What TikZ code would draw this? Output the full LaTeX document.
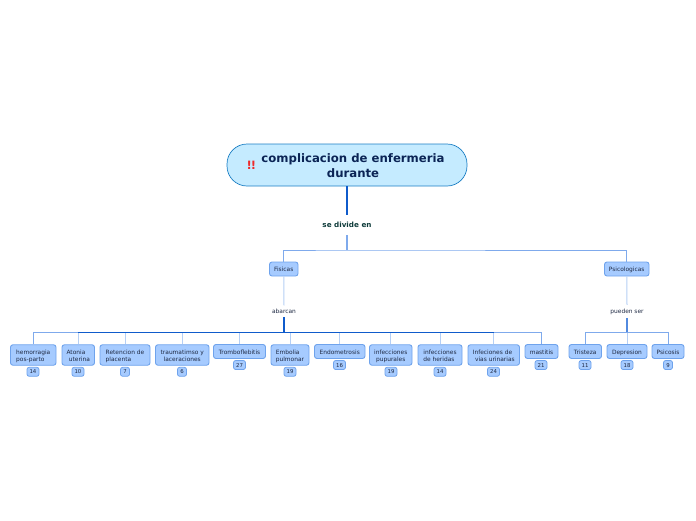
\documentclass[tikz,border=0pt]{standalone}
\usepackage{fontspec}
\setmainfont{DejaVu Sans}
\definecolor{nfill}{HTML}{A6CBFF}
\definecolor{ndraw}{HTML}{6FA3EC}
\definecolor{rootfill}{HTML}{C5EBFF}
\definecolor{rootdraw}{HTML}{1C7FC4}
\definecolor{rootink}{HTML}{0B2455}
\definecolor{darkblue}{HTML}{0F5BCB}
\definecolor{midblue}{HTML}{7FAAEC}
\definecolor{lightblue}{HTML}{B5CFF5}
\definecolor{inktxt}{HTML}{1F2A44}
\definecolor{greenink}{HTML}{0E3B3A}
\definecolor{warnred}{HTML}{EE2B2B}
\tikzset{
  x=1pt,y=-1pt,
  topic/.style={draw=ndraw,fill=nfill,line width=.9pt,rounded corners=2.5pt,inner sep=0pt,text=inktxt,font=\fontsize{5.9}{7}\selectfont,minimum height=14pt,text height=6pt,text depth=1pt},
  twoline/.style={minimum height=20.5pt,text height=13pt,text depth=1pt},
  badge/.style={draw=ndraw,fill=nfill,line width=.8pt,rounded corners=2.2pt,inner sep=0pt,text=inktxt,font=\fontsize{5.4}{6}\selectfont,minimum height=9pt,text height=4pt,text depth=0pt},
  linklabel/.style={inner sep=0pt,font=\fontsize{5.9}{7}\selectfont,text=inktxt},
  lnk/.style={draw=midblue,line width=.9pt},
  lnklight/.style={draw=lightblue,line width=1pt},
  lnkdark/.style={draw=darkblue,line width=1pt},
}
\newcommand{\topicnode}[6]{% name, left, right, cy, options, text
  \node[topic,#5,minimum width={(#3-#2)*1pt}] (#1) at ({(#2+#3)/2},#4) {#6};}
\begin{document}
\begin{tikzpicture}
\useasboundingbox (0,0) rectangle (696,520);
% root
\node[draw=rootdraw,fill=rootfill,line width=.7pt,rounded corners=20pt,minimum width=240pt,minimum height=42pt,inner sep=0pt] (root) at (347,165) {};
\node[inner sep=0pt,align=center,text=rootink,font=\fontsize{11.7}{15}\selectfont\bfseries] (roottext) at (353,165.8) {complicacion de enfermeria\\durante};
\node[inner sep=0pt,text=warnred,font=\fontsize{11.5}{11.5}\selectfont\bfseries] (warn) at (251.5,165) {\kern-.3pt!\kern-1.1pt!};
\node[linklabel,font=\fontsize{7.2}{8}\selectfont\bfseries,text=greenink] (divide) at (347,224.8) {se divide en};
\topicnode{fis}{269.5}{298}{269}{}{Fisicas}
\topicnode{psi}{604.5}{649}{269}{}{Psicologicas}
\node[linklabel] (abarcan) at (284,311.4) {abarcan};
\node[linklabel] (pueden) at (627,311.4) {pueden ser};
% children
\topicnode{a1}{10.5}{56}{355}{twoline,align=left}{hemorragia\\pos-parto}
\topicnode{a2}{62}{94.5}{355}{twoline,align=left}{Atonia\\\hspace*{2.3pt}uterina}
\topicnode{a3}{100}{150}{355}{twoline,align=left}{Retencion de\\placenta}
\topicnode{a4}{155.5}{209}{355}{twoline,align=center}{traumatimso y\\laceraciones}
\topicnode{a5}{213.5}{265.5}{351.5}{}{Tromboflebitis}
\topicnode{a6}{271}{309}{355}{twoline,align=left}{Embolia\\pulmonar}
\topicnode{a7}{314.5}{365}{351.5}{}{Endometrosis}
\topicnode{a8}{369.5}{412}{355}{twoline,align=center}{infecciones\\pupurales}
\topicnode{a9}{418}{462}{355}{twoline,align=left}{infecciones\\de heridas}
\topicnode{a10}{468}{519.5}{355}{twoline,align=left}{Infeciones de\\\hspace*{2.3pt}vias urinarias}
\topicnode{a11}{525}{558}{351.5}{}{mastitis}
\topicnode{b1}{569}{601.5}{351.5}{}{Tristeza}
\topicnode{b2}{607}{647}{351.5}{}{Depresion}
\topicnode{b3}{652}{684}{351.5}{}{Psicosis}
% badges
\node[badge,minimum width=12pt] (c1) at (33,371.8) {14};
\node[badge,minimum width=12pt] (c2) at (78,371.8) {10};
\node[badge,minimum width=9pt] (c3) at (125,371.8) {7};
\node[badge,minimum width=9pt] (c4) at (182,371.8) {6};
\node[badge,minimum width=12pt] (c5) at (239.5,365) {27};
\node[badge,minimum width=12pt] (c6) at (290,371.8) {19};
\node[badge,minimum width=12pt] (c7) at (339.5,365) {16};
\node[badge,minimum width=12pt] (c8) at (391,371.8) {19};
\node[badge,minimum width=12pt] (c9) at (440,371.8) {14};
\node[badge,minimum width=12pt] (c10) at (493.5,371.8) {24};
\node[badge,minimum width=12pt] (c11) at (541,365) {21};
\node[badge,minimum width=12pt] (d1) at (585,365) {11};
\node[badge,minimum width=12pt] (d2) at (627,365) {18};
\node[badge,minimum width=9pt] (d3) at (668,365) {9};
% bus coordinates
\coordinate (busT) at (347,250);
\coordinate (busA) at (284,332.5);
\coordinate (busB) at (627,332.5);
% connectors
\draw[draw=darkblue,line width=1.1pt] (root.south) -- ([yshift=7pt]divide.north);
\draw[lnk,line width=1.1pt] ([yshift=-7pt]divide.south) -- (busT);
\draw[lnk] (fis.north) |- (busT) -| (psi.north);
\draw[lnklight] (fis.south) -- ([yshift=3.5pt]abarcan.north);
\draw[lnklight] (psi.south) -- ([yshift=3.5pt]pueden.north);
\draw[draw=darkblue,line width=1.8pt] ([yshift=-3.5pt]abarcan.south) -- (busA);
\draw[draw=midblue!60!darkblue,line width=1.3pt] ([yshift=-3.5pt]pueden.south) -- (busB);
\draw[lnk] (a1.north) |- (a2.north |- busA);
\draw[lnkdark] (a2.north |- busA) -- (a10.north |- busA);
\draw[lnk] (a10.north |- busA) -| (a11.north);
\draw[lnk] (b1.north) |- (busB) -| (b3.north);
\foreach \n in {a2,a3,a4,a5,a6,a7,a8,a9,a10}
  \draw[lnklight] (\n.north) -- (\n.north |- busA);
\draw[lnklight] (b2.north) -- (b2.north |- busB);
\end{tikzpicture}
\end{document}
